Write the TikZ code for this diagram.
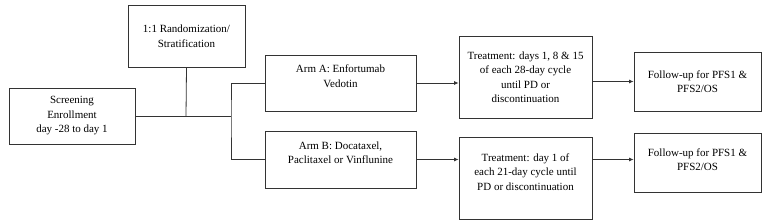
\documentclass[tikz,border=0pt]{standalone}
\usepackage{fontspec}
\setmainfont{Liberation Serif}
\usetikzlibrary{arrows.meta}

\begin{document}
\begin{tikzpicture}[x=1pt,y=-1pt,
  box/.style={draw=black!80, line width=0.8pt, align=center, inner sep=2pt,
    font=\fontsize{11}{14.5}\selectfont},
  link/.style={draw=black!80, line width=0.8pt},
  arr/.style={link, -{Latex[length=4.5pt,width=4pt]}}]
\useasboundingbox (0,0) rectangle (765,224);

\node[box, minimum width=126pt, minimum height=56pt] (screen) at (72,116)
  {Screening\\Enrollment\\day -28 to day 1};
\node[box, minimum width=117pt, minimum height=62pt] (rand) at (186.5,36)
  {1:1 Randomization/\\Stratification};
\node[box, minimum width=151pt, minimum height=56pt, text depth=14pt] (armA) at (340.5,83)
  {Arm A: Enfortumab\\Vedotin};
\node[box, minimum width=151pt, minimum height=57pt, text depth=14pt] (armB) at (340.5,159.5)
  {Arm B: Docataxel,\\Paclitaxel or Vinflunine};
\node[box, minimum width=133pt, minimum height=82pt] (treatA) at (525.5,77)
  {Treatment: days 1, 8 \& 15\\of each 28-day cycle\\until PD or\\discontinuation};
\node[box, minimum width=133pt, minimum height=82pt, text depth=12pt] (treatB) at (525.5,178)
  {Treatment: day 1 of\\each 21-day cycle until\\PD or discontinuation};
\node[box, minimum width=127pt, minimum height=59pt] (fupA) at (697.5,81.5)
  {Follow-up for PFS1 \&\\PFS2/OS};
\node[box, minimum width=127pt, minimum height=59pt, text depth=6pt] (fupB) at (697.5,162.5)
  {Follow-up for PFS1 \&\\PFS2/OS};

\coordinate (junc) at (186,116);
\coordinate (split) at (231,116);

% randomization tree
\draw[link] (screen.east) -- (split);
\draw[link] (rand.south) -- (junc);
\draw[link] (armA.west) -| (split) |- (armB.west);

% arm A
\draw[arr] (armA.east) -- (armA.east -| treatA.west);
\draw[arr] (fupA.west -| treatA.east) -- (fupA.west);

% arm B
\draw[arr] (armB.east) -- (armB.east -| treatB.west);
\draw[arr] (armB.east -| treatB.east) -- (armB.east -| fupB.west);
\end{tikzpicture}
\end{document}
